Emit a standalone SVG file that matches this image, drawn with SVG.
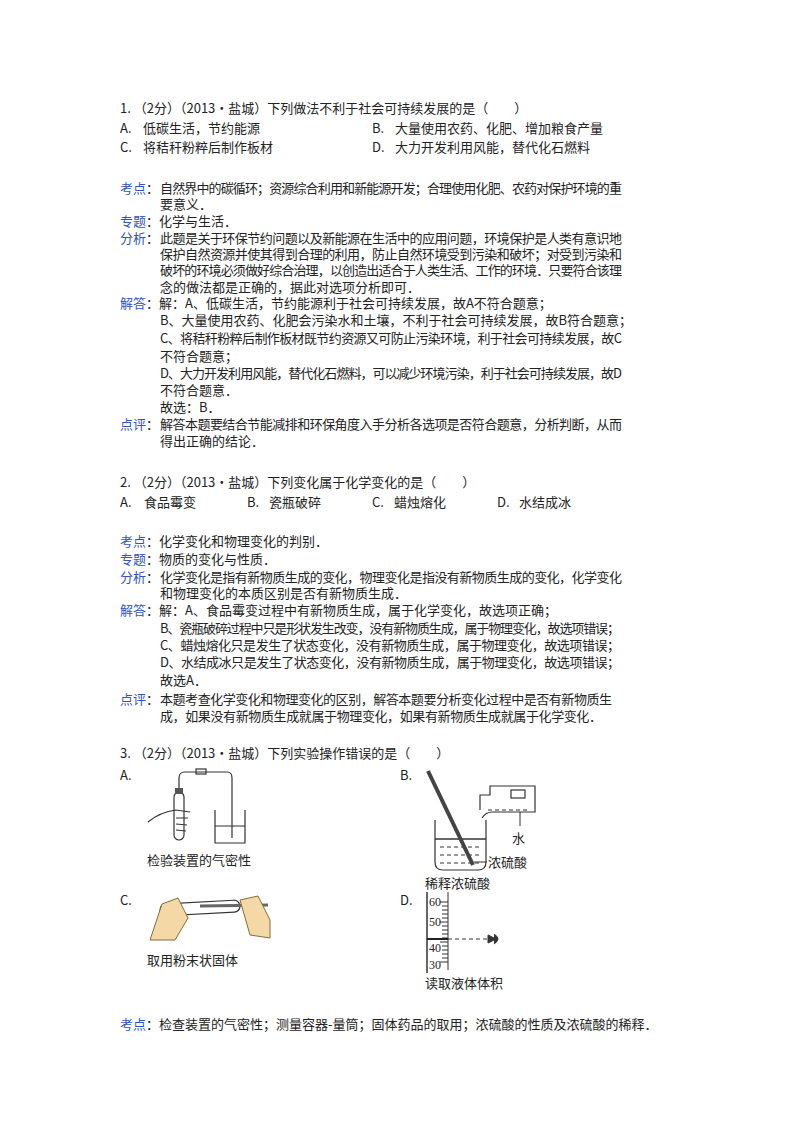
<svg xmlns="http://www.w3.org/2000/svg" width="800" height="1132" viewBox="0 0 800 1132">
<style>
text{font-family:"Noto Sans CJK SC","Liberation Sans",sans-serif;font-size:13px;fill:#222}
.l{fill:#2d55c8}
.s{fill:none;stroke:#333;stroke-width:1.2}
</style>
<rect width="800" height="1132" fill="#fff"/>
<g id="q1">
<text x="120" y="113">1. （2分）（2013•盐城）下列做法不利于社会可持续发展的是（　　）</text>
<text x="120" y="133">A.</text><text x="143" y="133">低碳生活，节约能源</text>
<text x="372" y="133">B.</text><text x="395" y="133">大量使用农药、化肥、增加粮食产量</text>
<text x="120" y="152">C.</text><text x="143" y="152">将秸秆粉粹后制作板材</text>
<text x="372" y="152">D.</text><text x="395" y="152">大力开发利用风能，替代化石燃料</text>
<text x="120" y="193"><tspan class="l">考点</tspan>：</text><text x="160" y="193" textLength="462">自然界中的碳循环；资源综合利用和新能源开发；合理使用化肥、农药对保护环境的重</text>
<text x="160" y="209">要意义．</text>
<text x="120" y="226"><tspan class="l">专题</tspan>：化学与生活．</text>
<text x="120" y="243"><tspan class="l">分析</tspan>：</text><text x="160" y="243" textLength="462">此题是关于环保节约问题以及新能源在生活中的应用问题，环境保护是人类有意识地</text>
<text x="160" y="259" textLength="462">保护自然资源并使其得到合理的利用，防止自然环境受到污染和破坏；对受到污染和</text>
<text x="160" y="275" textLength="462">破坏的环境必须做好综合治理，以创造出适合于人类生活、工作的环境．只要符合该理</text>
<text x="160" y="292">念的做法都是正确的，据此对选项分析即可．</text>
<text x="120" y="308"><tspan class="l">解答</tspan>：解：A、低碳生活，节约能源利于社会可持续发展，故A不符合题意；</text>
<text x="160" y="325">B、大量使用农药、化肥会污染水和土壤，不利于社会可持续发展，故B符合题意；</text>
<text x="160" y="343" textLength="462">C、将秸秆粉粹后制作板材既节约资源又可防止污染环境，利于社会可持续发展，故C</text>
<text x="160" y="361">不符合题意；</text>
<text x="160" y="378" textLength="462">D、大力开发利用风能，替代化石燃料，可以减少环境污染，利于社会可持续发展，故D</text>
<text x="160" y="395">不符合题意．</text>
<text x="160" y="412">故选：B．</text>
<text x="120" y="429"><tspan class="l">点评</tspan>：</text><text x="160" y="429" textLength="462">解答本题要结合节能减排和环保角度入手分析各选项是否符合题意，分析判断，从而</text>
<text x="160" y="446">得出正确的结论．</text>
</g>
<g id="q2">
<text x="120" y="487">2. （2分）（2013•盐城）下列变化属于化学变化的是（　　）</text>
<text x="120" y="507">A.</text><text x="144" y="507">食品霉变</text>
<text x="247" y="507">B.</text><text x="269" y="507">瓷瓶破碎</text>
<text x="372" y="507">C.</text><text x="394" y="507">蜡烛熔化</text>
<text x="497" y="507">D.</text><text x="519" y="507">水结成冰</text>
<text x="120" y="546"><tspan class="l">考点</tspan>：化学变化和物理变化的判别．</text>
<text x="120" y="564"><tspan class="l">专题</tspan>：物质的变化与性质．</text>
<text x="120" y="582"><tspan class="l">分析</tspan>：</text><text x="160" y="582" textLength="462">化学变化是指有新物质生成的变化，物理变化是指没有新物质生成的变化，化学变化</text>
<text x="160" y="598">和物理变化的本质区别是否有新物质生成．</text>
<text x="120" y="615"><tspan class="l">解答</tspan>：解：A、食品霉变过程中有新物质生成，属于化学变化，故选项正确；</text>
<text x="160" y="633" textLength="460">B、瓷瓶破碎过程中只是形状发生改变，没有新物质生成，属于物理变化，故选项错误；</text>
<text x="160" y="650" textLength="460">C、蜡烛熔化只是发生了状态变化，没有新物质生成，属于物理变化，故选项错误；</text>
<text x="160" y="667" textLength="460">D、水结成冰只是发生了状态变化，没有新物质生成，属于物理变化，故选项错误；</text>
<text x="160" y="685">故选A．</text>
<text x="120" y="704"><tspan class="l">点评</tspan>：</text><text x="160" y="704" textLength="452">本题考查化学变化和物理变化的区别，解答本题要分析变化过程中是否有新物质生</text>
<text x="160" y="721" textLength="442">成，如果没有新物质生成就属于物理变化，如果有新物质生成就属于化学变化．</text>
</g>
<g id="q3">
<text x="120" y="758">3. （2分）（2013•盐城）下列实验操作错误的是（　　）</text>
<text x="120" y="780">A.</text>
<text x="400" y="780">B.</text>
<text x="120" y="905">C.</text>
<text x="400" y="905">D.</text>
<g id="figA">
<rect x="174" y="792" width="10" height="48" rx="5" class="s"/>
<rect x="175" y="788" width="8" height="6" fill="#555"/>
<path class="s" d="M179 788 V778 Q179 772 185 772 H227 Q232 772 232 778 V838"/>
<rect x="196" y="769" width="10" height="5" class="s"/>
<path class="s" d="M215 810 V843 H245 V810"/>
<line x1="215" y1="826" x2="245" y2="826" stroke="#333"/>
<path class="s" d="M148 822 Q160 812 176 810 L190 812 M176 818 L188 818 M176 824 L187 825 M176 830 L186 831"/>
<text x="147" y="865">检验装置的气密性</text>
</g>
<g id="figB">
<path class="s" d="M435 820 V862 Q435 870 443 870 H478 Q486 870 486 862 V820"/>
<line x1="435" y1="839" x2="486" y2="839" stroke="#333" stroke-width="1.5"/>
<path d="M440 847h40M440 855h40M440 863h40" stroke="#333" stroke-dasharray="4 3"/>
<line x1="428" y1="771" x2="473" y2="865" stroke="#444" stroke-width="4"/>
<path class="s" d="M480 810 V795 H490 V786 H535 V812 H492 Q486 812 482 818"/>
<rect x="511" y="790" width="14" height="8" class="s"/>
<line x1="488" y1="810" x2="530" y2="810" stroke="#333" stroke-dasharray="4 3"/>
<line x1="520" y1="812" x2="520" y2="826" stroke="#333"/>
<text x="512" y="843">水</text>
<line x1="474" y1="862" x2="487" y2="862" stroke="#333"/>
<text x="488" y="867">浓硫酸</text>
<text x="425" y="888">稀释浓硫酸</text>
</g>
<g id="figC">
<rect x="160" y="902" width="80" height="12" rx="6" class="s" transform="rotate(-3 200 908)"/>
<line x1="200" y1="906" x2="268" y2="905" stroke="#666" stroke-width="3"/>
<path d="M150 940 L162 904 L178 898 L188 918 L175 940 Z" fill="#f4d9a6" stroke="#8a6a3a"/>
<path d="M240 900 L258 896 L270 920 L270 938 L250 935 Z" fill="#f4d9a6" stroke="#8a6a3a"/>
<text x="147" y="965">取用粉末状固体</text>
</g>
<g id="figD">
<line x1="427" y1="892" x2="427" y2="973" stroke="#333" stroke-width="1.5"/>
<line x1="448" y1="892" x2="448" y2="970" stroke="#333"/>
<path d="M440 902h8M442 906h6M442 910h6M442 914h6M442 918h6M440 922h8M442 926h6M442 930h6M442 934h6M442 938h6M440 942h8M442 946h6M442 950h6M442 954h6M442 958h6M440 962h8" stroke="#333"/>
<line x1="427" y1="939" x2="448" y2="939" stroke="#222" stroke-width="2"/>
<line x1="448" y1="939" x2="488" y2="939" stroke="#333" stroke-dasharray="4 3"/>
<path d="M488 935 L496 939 L488 943 Z M494 934 Q502 939 494 944" fill="#333" stroke="#333"/>
<text x="429" y="906" style="font-family:'Liberation Serif',serif;font-size:12px">60</text>
<text x="429" y="926" style="font-family:'Liberation Serif',serif;font-size:12px">50</text>
<text x="429" y="952" style="font-family:'Liberation Serif',serif;font-size:12px">40</text>
<text x="429" y="969" style="font-family:'Liberation Serif',serif;font-size:12px">30</text>
<text x="425" y="988">读取液体体积</text>
</g>
<text x="120" y="1029"><tspan class="l">考点</tspan>：检查装置的气密性；测量容器-量筒；固体药品的取用；浓硫酸的性质及浓硫酸的稀释．</text>
</g>
</svg>
